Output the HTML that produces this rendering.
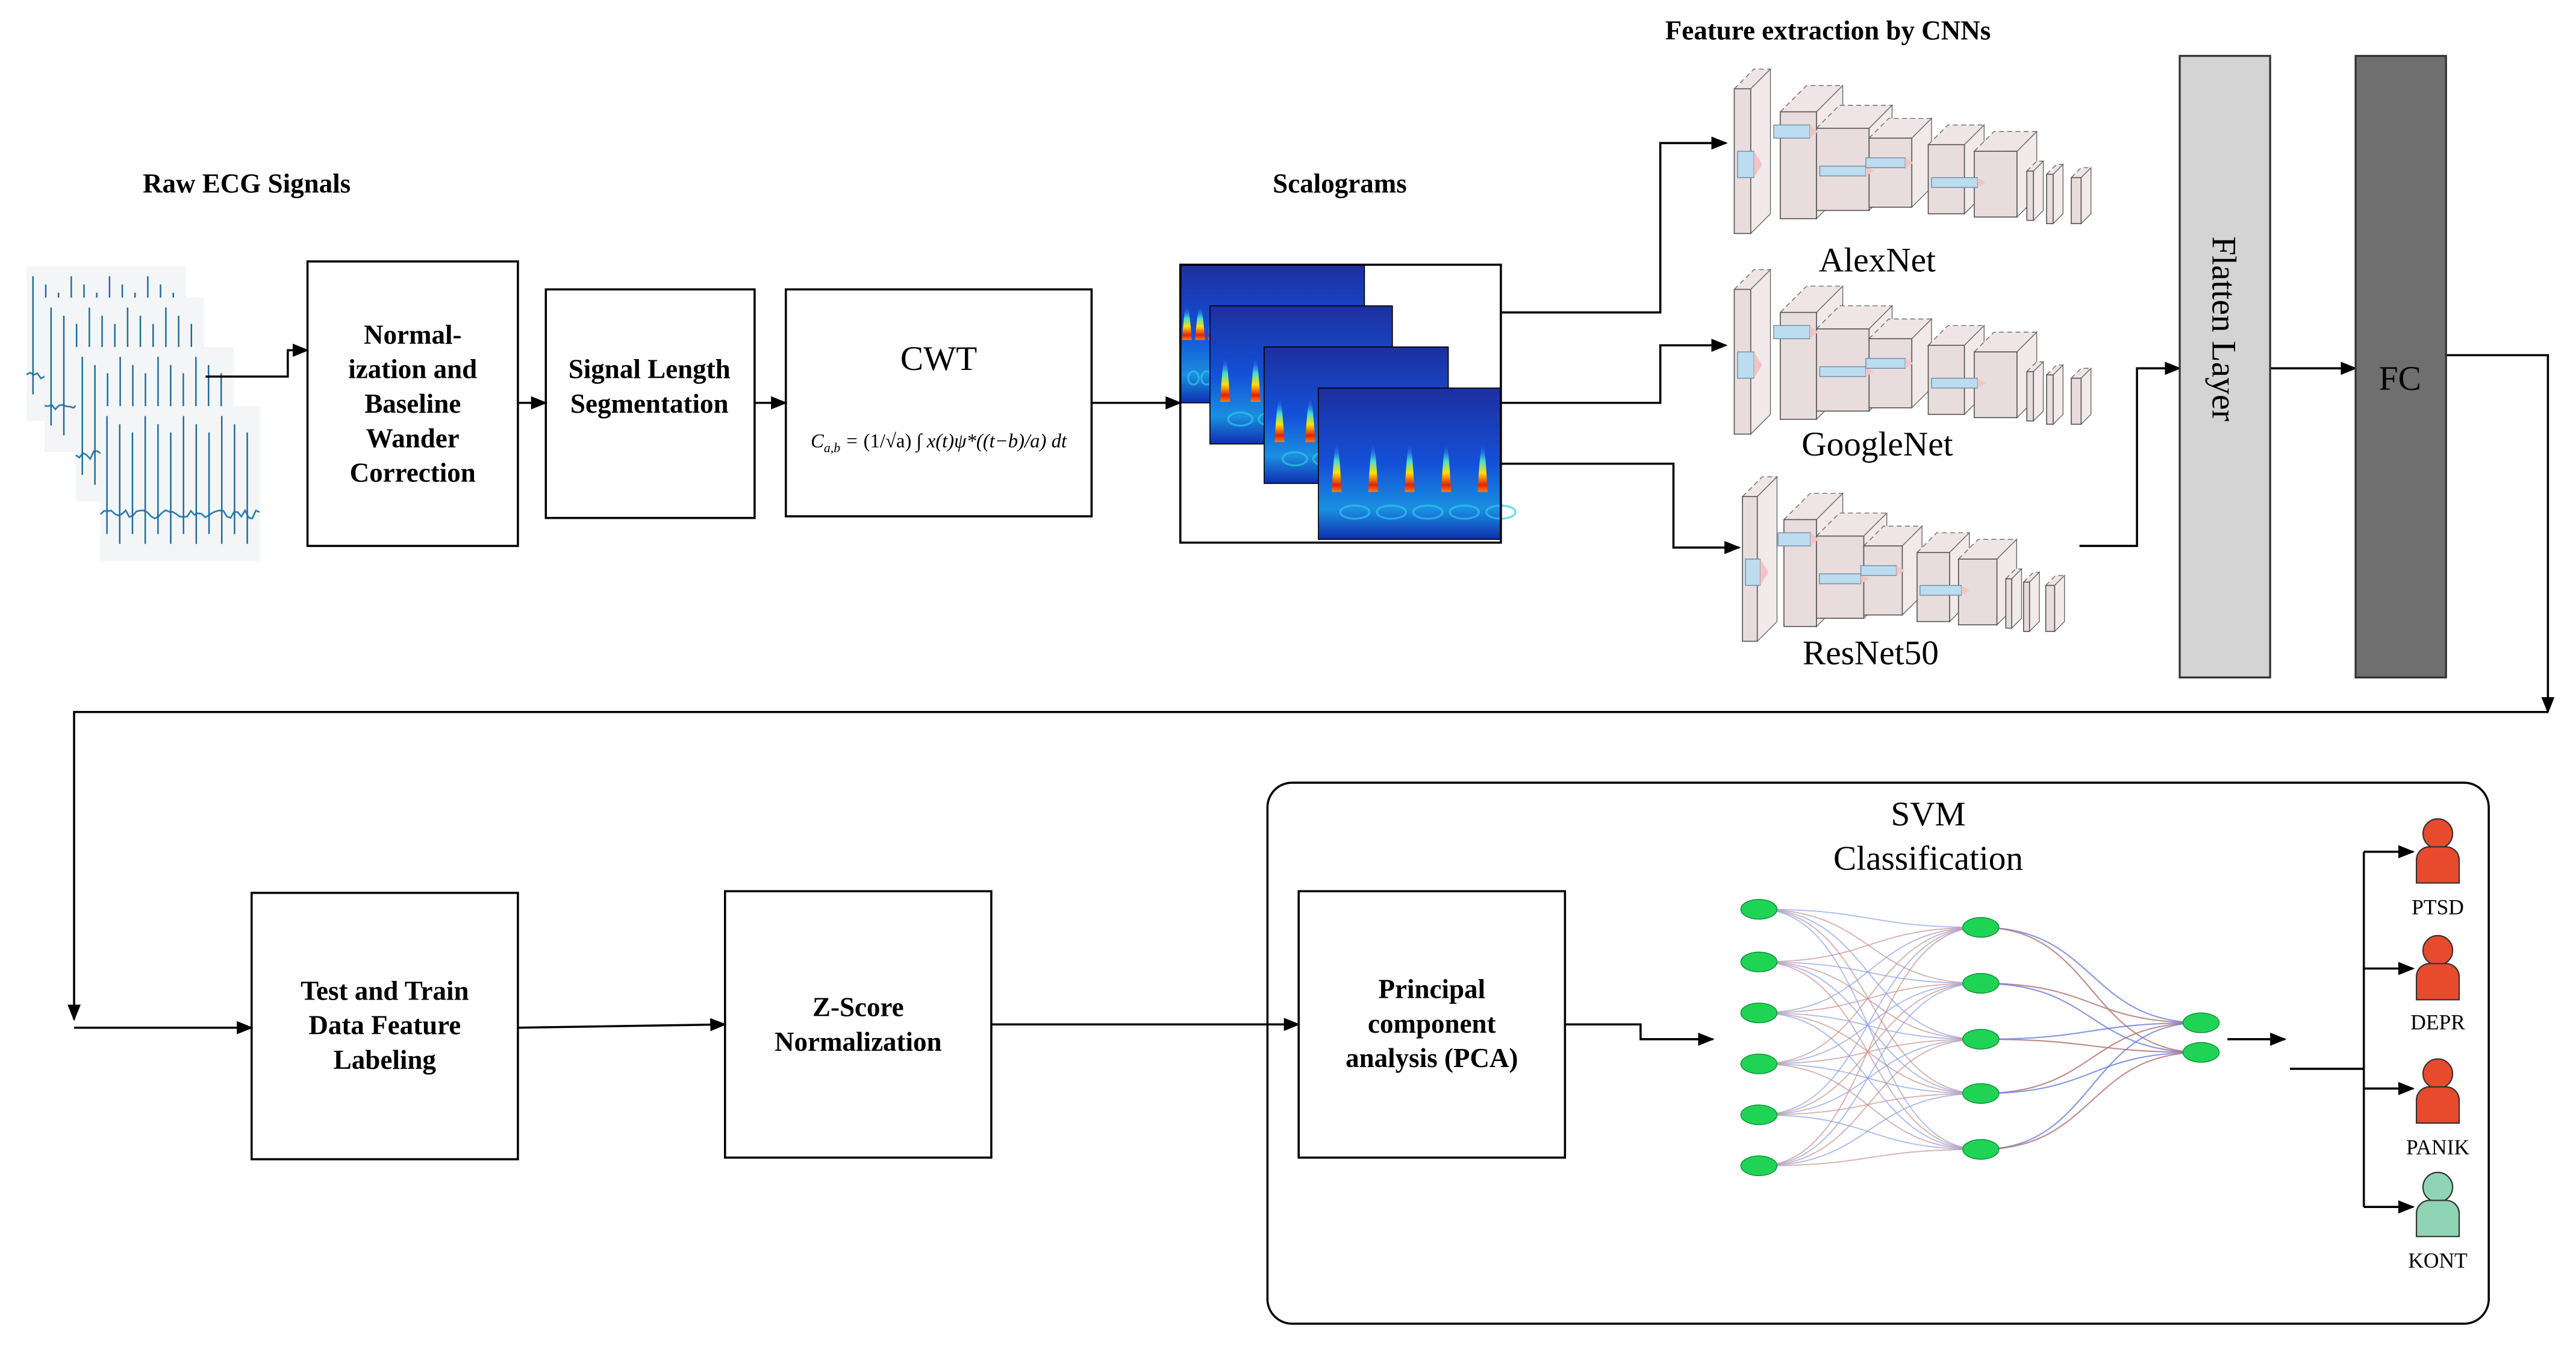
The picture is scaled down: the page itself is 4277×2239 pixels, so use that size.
<!DOCTYPE html>
<html><head><meta charset="utf-8">
<style>
html,body{margin:0;padding:0;background:#fff;}
svg{display:block;}
text{font-family:"Liberation Serif",serif;fill:#000;}
.b{font-weight:bold;font-size:16.5px;}
</style></head>
<body>
<svg id="s" width="4277" height="2239" viewBox="0 0 1567 820.4" xmlns="http://www.w3.org/2000/svg">
<defs>
<marker id="ar" markerWidth="10" markerHeight="10" refX="9" refY="5" orient="auto" markerUnits="userSpaceOnUse">
<path d="M0,1 L10,5 L0,9 z" fill="#000"/></marker>
<linearGradient id="sg" x1="0" y1="0" x2="0" y2="1">
<stop offset="0" stop-color="#1d2f9e"/><stop offset="0.5" stop-color="#1450d8"/><stop offset="0.8" stop-color="#1a8fe0"/><stop offset="1" stop-color="#0f2fb0"/></linearGradient>
<linearGradient id="sp" x1="0" y1="0" x2="0" y2="1">
<stop offset="0" stop-color="#3050ff" stop-opacity="0"/><stop offset="0.35" stop-color="#40e0d0"/><stop offset="0.6" stop-color="#ffe000"/><stop offset="0.85" stop-color="#e02010"/><stop offset="1" stop-color="#ff8000"/></linearGradient>
</defs>
<g id="ecg"></g>
<g id="scal"></g>
<g id="cnn"></g>
<g id="nn"></g>
<g fill="none" stroke="#000" stroke-width="1.3">
<rect x="187" y="159" width="128" height="173"/>
<rect x="332" y="176" width="127" height="139"/>
<rect x="478" y="176" width="186" height="138"/>
<rect x="718" y="161" width="195" height="169"/>
<rect x="153" y="543" width="162" height="162"/>
<rect x="441" y="542" width="162" height="162"/>
<rect x="790" y="542" width="162" height="162"/>
<rect x="771" y="476" width="743" height="329" rx="15"/>
<polyline points="125,229 175,229 175,213 187,213" marker-end="url(#ar)"/>
<line x1="315" y1="245" x2="332" y2="245" marker-end="url(#ar)"/>
<line x1="459" y1="245" x2="478" y2="245" marker-end="url(#ar)"/>
<line x1="664" y1="245" x2="718" y2="245" marker-end="url(#ar)"/>
<polyline points="913,190 1010,190 1010,87 1050,87" marker-end="url(#ar)"/>
<polyline points="913,245 1010,245 1010,210 1050,210" marker-end="url(#ar)"/>
<polyline points="913,282 1018,282 1018,333 1058,333" marker-end="url(#ar)"/>
<polyline points="1265,332 1300,332 1300,224 1326,224" marker-end="url(#ar)"/>
<line x1="1381" y1="224" x2="1433" y2="224" marker-end="url(#ar)"/>
<polyline points="1488,216 1550,216 1550,433" marker-end="url(#ar)"/>
<polyline points="1550,433 45,433 45,620" marker-end="url(#ar)"/>
<polyline points="45,625 153,625" marker-end="url(#ar)"/>
<line x1="315" y1="625" x2="441" y2="623" marker-end="url(#ar)"/>
<line x1="603" y1="623" x2="790" y2="623" marker-end="url(#ar)"/>
<polyline points="952,623 998,623 998,632 1042,632" marker-end="url(#ar)"/>
<line x1="1355" y1="632" x2="1390" y2="632" marker-end="url(#ar)"/>
<polyline points="1393,650 1438,650"/>
<line x1="1438" y1="518" x2="1438" y2="734"/>
<line x1="1438" y1="518" x2="1468" y2="518" marker-end="url(#ar)"/>
<line x1="1438" y1="589" x2="1468" y2="589" marker-end="url(#ar)"/>
<line x1="1438" y1="662" x2="1468" y2="662" marker-end="url(#ar)"/>
<line x1="1438" y1="734" x2="1468" y2="734" marker-end="url(#ar)"/>
</g>
<rect x="1326" y="34" width="55" height="378" fill="#d4d4d4" stroke="#333" stroke-width="1.2"/>
<rect x="1433" y="34" width="55" height="378" fill="#6f6f6f" stroke="#333" stroke-width="1.2"/>
<text x="0" y="0" font-size="21" text-anchor="middle" transform="translate(1346,200) rotate(90)">Flatten Layer</text>
<text x="1460" y="237" font-size="21" text-anchor="middle">FC</text>
<g stroke="#333" stroke-width="0.8">
<g fill="#e84a2e"><circle cx="1483" cy="507" r="9"/><path d="M1470,537 v-14 a8,8 0 0 1 8,-8 h10 a8,8 0 0 1 8,8 v14 z"/>
<circle cx="1483" cy="578" r="9"/><path d="M1470,608 v-14 a8,8 0 0 1 8,-8 h10 a8,8 0 0 1 8,8 v14 z"/>
<circle cx="1483" cy="653" r="9"/><path d="M1470,683 v-14 a8,8 0 0 1 8,-8 h10 a8,8 0 0 1 8,8 v14 z"/></g>
<g fill="#8fd4b5"><circle cx="1483" cy="722" r="9"/><path d="M1470,752 v-14 a8,8 0 0 1 8,-8 h10 a8,8 0 0 1 8,8 v14 z"/></g>
</g>
<g font-size="13" text-anchor="middle">
<text x="1483" y="556">PTSD</text><text x="1483" y="626">DEPR</text><text x="1483" y="702">PANIK</text><text x="1483" y="771">KONT</text></g>
<g class="b" text-anchor="middle">
<text x="150" y="117">Raw ECG Signals</text>
<text x="815" y="117">Scalograms</text>
<text x="1112" y="24">Feature extraction by CNNs</text>
<text x="251" y="209">Normal-</text><text x="251" y="230">ization and</text><text x="251" y="251">Baseline</text><text x="251" y="272">Wander</text><text x="251" y="293">Correction</text>
<text x="395" y="230">Signal Length</text><text x="395" y="251">Segmentation</text>
<text x="234" y="608">Test and Train</text><text x="234" y="629">Data Feature</text><text x="234" y="650">Labeling</text>
<text x="522" y="618">Z-Score</text><text x="522" y="639">Normalization</text>
<text x="871" y="607">Principal</text><text x="871" y="628">component</text><text x="871" y="649">analysis (PCA)</text>
</g>
<text x="571" y="225" font-size="21" text-anchor="middle">CWT</text>
<text x="571" y="272" font-size="12" text-anchor="middle" font-style="italic">C<tspan font-size="8" dy="3">a,b</tspan><tspan dy="-3"> = </tspan><tspan font-style="normal">(1/√a)</tspan> ∫ x(t)ψ*((t−b)/a) dt</text>
<g font-size="21" text-anchor="middle">
<text x="1142" y="165">AlexNet</text><text x="1142" y="277">GoogleNet</text><text x="1138" y="404">ResNet50</text>
<text x="1173" y="502">SVM</text><text x="1173" y="529">Classification</text></g>
</svg>
<script>
var NS="http://www.w3.org/2000/svg";
function el(p,t,a){var e=document.createElementNS(NS,t);for(var k in a)e.setAttribute(k,a[k]);p.appendChild(e);return e;}
var eg=document.getElementById('ecg');
var imgs=[[16,162,97,94],[27,181,97,94],[46,211,96,94],[61,247,97,94]];
imgs.forEach(function(r,i){
 el(eg,'rect',{x:r[0],y:r[1],width:r[2],height:r[3],fill:'#f3f5f6'});
 var base=r[1]+r[3]*0.7, d='M'+r[0]+','+base, x=r[0];
 var s=1+i*7;
 while(x<r[0]+r[2]-2){x+=2.2;s=(s*9301+49297)%233280;var j=(s/233280-0.5)*5;d+=' L'+x.toFixed(1)+','+(base+j).toFixed(1);}
 el(eg,'path',{d:d,fill:'none',stroke:'#2d7fb0','stroke-width':1});
 for(var k=0;k<12;k++){var xx=r[0]+4+k*r[2]/12.5;el(eg,'line',{x1:xx,y1:r[1]+6+(k%3)*5,x2:xx,y2:base+12+(k%2)*6,stroke:'#1f6a9a','stroke-width':0.9});}
});
var sc=document.getElementById('scal');
[[718,161,112,84],[736,186,111,84],[769,211,112,83],[802,236,111,92]].forEach(function(r,i){
 el(sc,'rect',{x:r[0],y:r[1],width:r[2],height:r[3],fill:'url(#sg)',stroke:'#000','stroke-width':0.6});
 var n=i==0?14:(i==3?5:6);
 for(var k=0;k<n;k++){var cx=r[0]+(k+0.5)*r[2]/n,h=r[3]*(i==0?0.45:0.6);
  el(sc,'path',{d:'M'+(cx-3)+','+(r[1]+h+8)+' Q'+cx+','+(r[1]+5)+' '+(cx+3)+','+(r[1]+h+8)+' z',fill:'url(#sp)'});
  el(sc,'ellipse',{cx:cx+r[2]/n/2,cy:r[1]+r[3]*0.82,rx:r[2]/n/2.5,ry:4,fill:'none',stroke:'#30c8e8','stroke-width':1.2,opacity:0.7});}
});
var cg=document.getElementById('cnn');
function cnn(ox,oy,sx){
 var L=[[0,8,10,88,12],[28,22,22,65,16],[50,32,32,50,14],[82,38,26,42,12],[118,42,22,42,12],[146,46,26,40,12],[178,58,4,30,6],[190,60,4,30,6],[205,62,6,28,6]];
 L.forEach(function(l){var x=ox+l[0]*sx,y=oy+l[1],w=l[2]*sx,h=l[3],d=l[4];
  el(cg,'polygon',{points:[x,y,x+d,y-d,x+d+w,y-d,x+w,y].join(' '),fill:'#efe5e6',stroke:'#666','stroke-width':0.5,'stroke-dasharray':'3,2'});
  el(cg,'polygon',{points:[x+w,y,x+w+d,y-d,x+w+d,y+h-d,x+w,y+h].join(' '),fill:'#f2eaea',stroke:'#666','stroke-width':0.5});
  el(cg,'rect',{x:x,y:y,width:w,height:h,fill:'#e9dcdd',stroke:'#555','stroke-width':0.6});});
 [[2,46,10,16],[24,30,22,8],[52,55,28,6],[80,50,24,6],[120,62,28,6]].forEach(function(b){
  el(cg,'rect',{x:ox+b[0]*sx,y:oy+b[1],width:b[2]*sx,height:b[3],fill:'#bcdcf0',stroke:'#6a8aa0','stroke-width':0.5});
  el(cg,'polygon',{points:[ox+(b[0]+b[2])*sx,oy+b[1],ox+(b[0]+b[2])*sx+5,oy+b[1]+b[3]/2,ox+(b[0]+b[2])*sx,oy+b[1]+b[3]].join(' '),fill:'#f3c4c4'});});
}
cnn(1055,46,1.0);cnn(1055,168,1.0);cnn(1060,294,0.9);
var ng=document.getElementById('nn');
var I=[553,585,616,647,678,709],H=[564,598,632,665,699],O=[622,640];
I.forEach(function(a,i){H.forEach(function(b,j){el(ng,'path',{d:'M1070,'+a+' C1140,'+a+' 1135,'+b+' 1205,'+b,fill:'none',stroke:(i+j)%2?'#c89090':'#8aa0e8','stroke-width':0.7,opacity:0.7});});});
H.forEach(function(a,i){O.forEach(function(b,j){el(ng,'path',{d:'M1205,'+a+' C1275,'+a+' 1270,'+b+' 1339,'+b,fill:'none',stroke:(i+j)%2?'#b07070':'#6a80e0','stroke-width':0.8,opacity:0.8});});});
I.forEach(function(y){el(ng,'ellipse',{cx:1070,cy:y,rx:11,ry:6,fill:'#1fd455',stroke:'#0a8a30','stroke-width':0.5});});
H.forEach(function(y){el(ng,'ellipse',{cx:1205,cy:y,rx:11,ry:6,fill:'#1fd455',stroke:'#0a8a30','stroke-width':0.5});});
O.forEach(function(y){el(ng,'ellipse',{cx:1339,cy:y,rx:11,ry:6,fill:'#1fd455',stroke:'#0a8a30','stroke-width':0.5});});
</script>
</body></html>
